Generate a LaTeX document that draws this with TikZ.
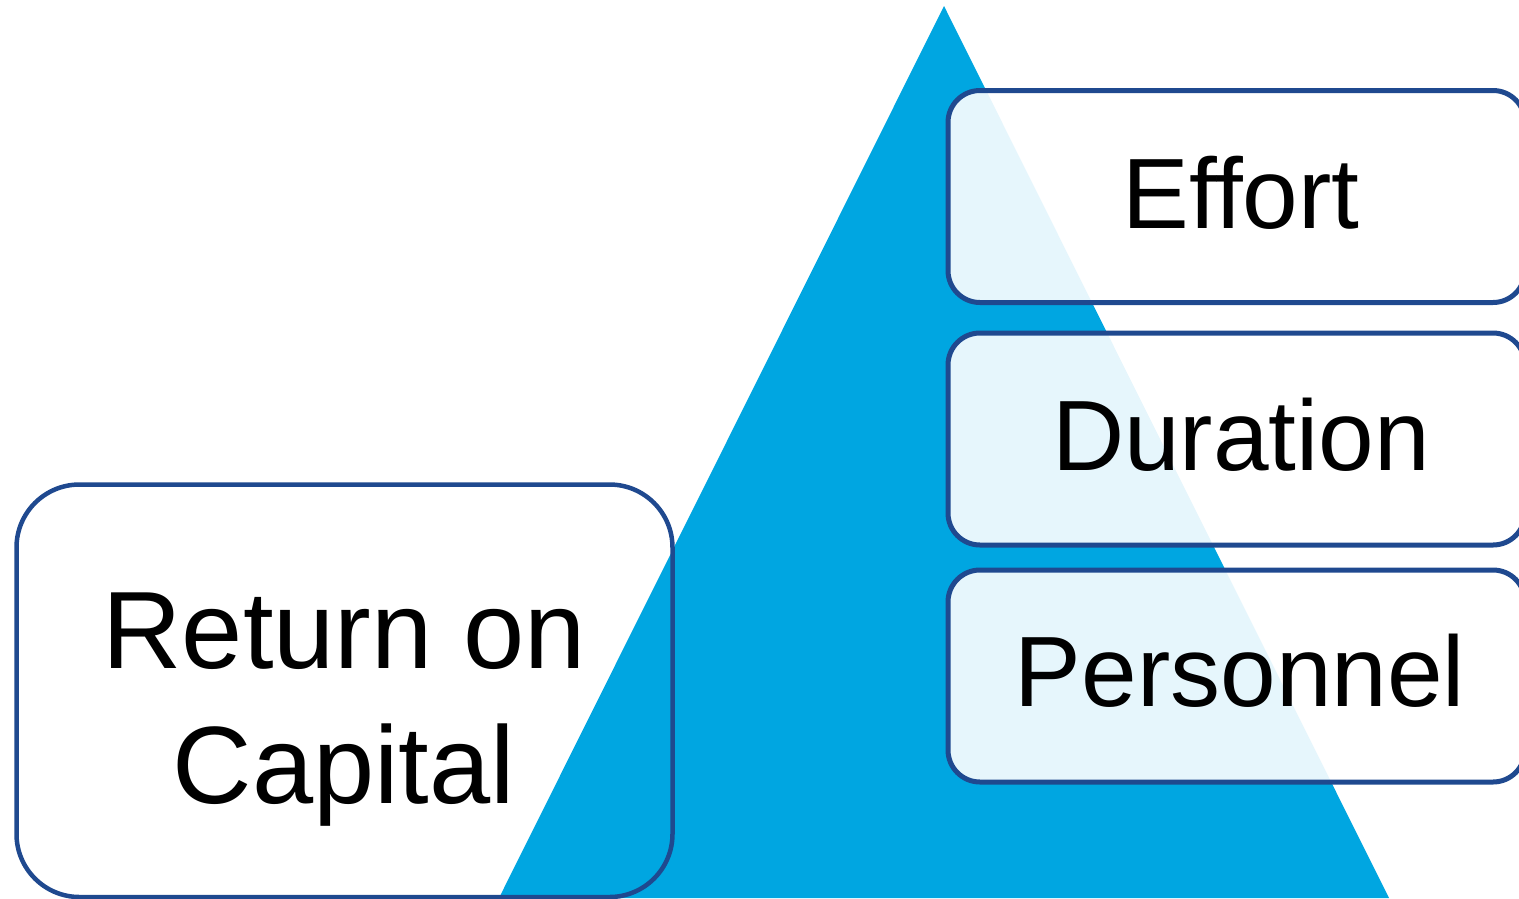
\documentclass[tikz,border=0pt]{standalone}
\usepackage{fontspec}
\setmainfont{Liberation Sans}
\definecolor{pyramidblue}{RGB}{0,166,225}
\definecolor{frameblue}{RGB}{31,73,143}
\begin{document}
\begin{tikzpicture}[x=1pt,y=-1pt,
  factorbox/.style={draw=frameblue, line width=5pt, fill=white, fill opacity=0.9,
    rounded corners=32pt, minimum width=577pt, minimum height=212pt,
    inner sep=0pt, outer sep=0pt},
  mainbox/.style={draw=frameblue, line width=4.5pt,
    rounded corners=63pt, minimum width=656pt, minimum height=412.5pt,
    inner sep=0pt, outer sep=0pt},
  factortext/.style={anchor=base, inner sep=0pt, font=\fontsize{100}{120}\selectfont},
  maintext/.style={anchor=base, inner sep=0pt, font=\fontsize{110}{135}\selectfont}]
\useasboundingbox (0,0) rectangle (1519,898);
\clip (0,0) rectangle (1519,898);

% pyramid
\coordinate (apex) at (944,6);
\coordinate (baseL) at (499,898);
\coordinate (baseR) at (1389,898);
\fill[pyramidblue] (apex) -- (baseR) -- (baseL) -- cycle;

% main box on the left (outline only)
\node[mainbox] (roc) at (344.5,690.75) {};
\node[maintext] (roc1) at (344,668) {Return on};
\node[maintext] (roc2) at (344,803) {Capital};

% factor boxes on the right
\node[factorbox] (effort) at (1236.5,196.5) {};
\node[factorbox] (duration) at (1236.5,439) {};
\node[factorbox] (personnel) at (1236.5,676) {};
\node[factortext] (efforttxt) at (1241,228) {Effort};
\node[factortext] (durationtxt) at (1241,470) {Duration};
\node[factortext] (personneltxt) at (1240,706) {Personnel};
\end{tikzpicture}
\end{document}
